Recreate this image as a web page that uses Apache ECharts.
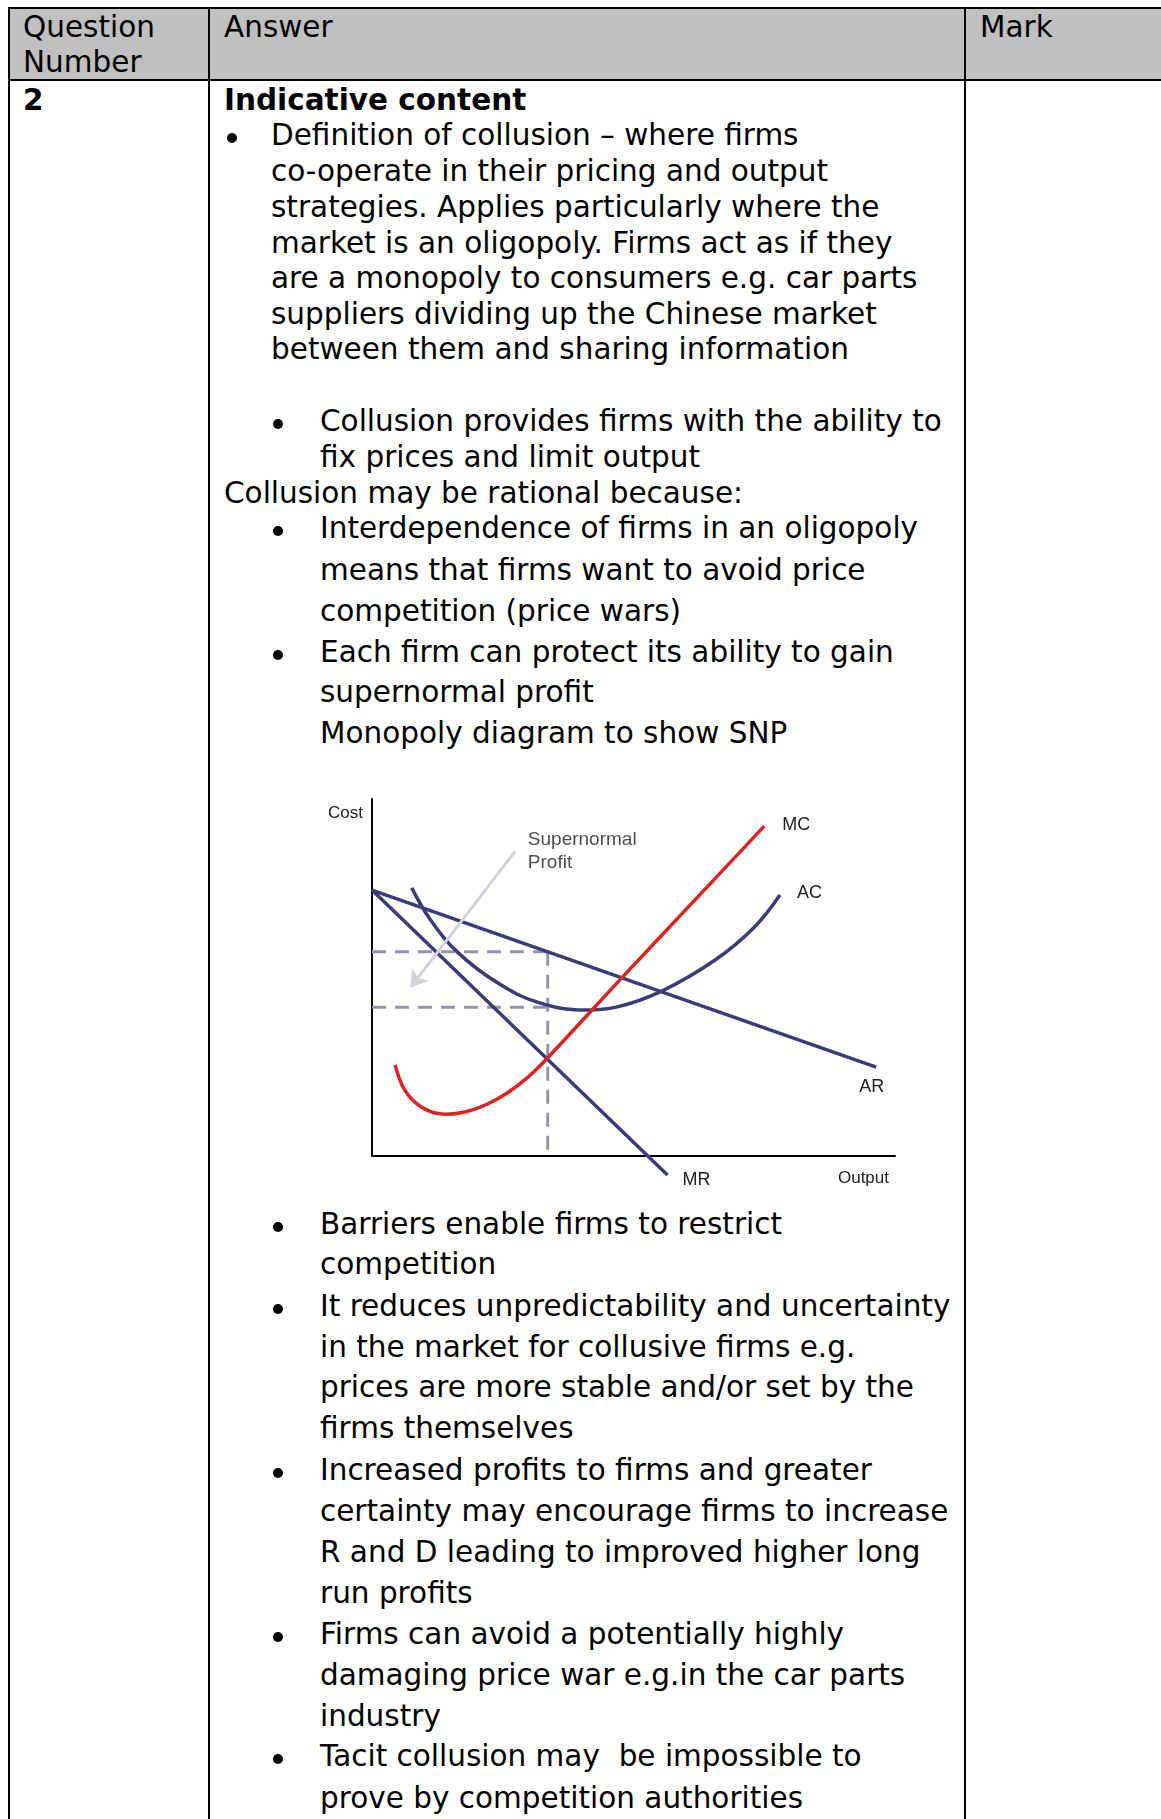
<!DOCTYPE html>
<html>
<head>
<meta charset="utf-8">
<script src="https://cdn.jsdelivr.net/npm/echarts@6/dist/echarts.min.js"></script>
<style>
  body { margin: 0; background: #fff; }
  #page { position: relative; width: 1161px; height: 1819px; overflow: hidden;
          font-family: "DejaVu Sans", Verdana, sans-serif; font-size: 29.5px; color: #000; }
  .ln { position: absolute; white-space: pre; line-height: 36px; }
  .b { font-weight: bold; }
  .dot { position: absolute; width: 10px; height: 10px; border-radius: 50%; background: #000; }
  .rule { position: absolute; background: #000; }
  #head { position: absolute; left: 10px; top: 9px; width: 1151px; height: 70px; background: #c0c0c0; }
  #chart { position: absolute; left: 300px; top: 770px; width: 620px; height: 430px; }
</style>
</head>
<body>
<div id="page">
  <div id="head"></div>
  <div class="rule" style="left:8px;top:7px;width:1153px;height:2px"></div>
  <div class="rule" style="left:8px;top:79px;width:1153px;height:2px"></div>
  <div class="rule" style="left:8px;top:7px;width:2px;height:1812px"></div>
  <div class="rule" style="left:208px;top:7px;width:2px;height:1812px"></div>
  <div class="rule" style="left:964px;top:7px;width:2px;height:1812px"></div>
  <div id="text"></div>
  <div id="chart"></div>
</div>
<script>
// text lines of the mark scheme: [text, left, centre y, bold?]
// a text of '*' is a bullet dot centred on (left, y)
var lines = [
  ['Question', 23, 28], ['Number', 23, 63], ['Answer', 224, 28], ['Mark', 980, 28],
  ['2', 23, 101, 1], ['Indicative content', 224, 101, 1],
  ['*', 232, 136], ['Definition of collusion \u2013 where firms', 271, 136],
  ['co-operate in their pricing and output', 271, 172],
  ['strategies. Applies particularly where the', 271, 208],
  ['market is an oligopoly. Firms act as if they', 271, 244],
  ['are a monopoly to consumers e.g. car parts', 271, 279],
  ['suppliers dividing up the Chinese market', 271, 315],
  ['between them and sharing information', 271, 350],
  ['*', 278, 422], ['Collusion provides firms with the ability to', 320, 422],
  ['fix prices and limit output', 320, 458],
  ['Collusion may be rational because:', 224, 494],
  ['*', 278, 529], ['Interdependence of firms in an oligopoly', 320, 529],
  ['means that firms want to avoid price', 320, 571],
  ['competition (price wars)', 320, 612],
  ['*', 278, 653], ['Each firm can protect its ability to gain', 320, 653],
  ['supernormal profit', 320, 693],
  ['Monopoly diagram to show SNP', 320, 734],
  ['*', 278, 1225], ['Barriers enable firms to restrict', 320, 1225],
  ['competition', 320, 1265],
  ['*', 278, 1307], ['It reduces unpredictability and uncertainty', 320, 1307],
  ['in the market for collusive firms e.g.', 320, 1348],
  ['prices are more stable and/or set by the', 320, 1388],
  ['firms themselves', 320, 1429],
  ['*', 278, 1471], ['Increased profits to firms and greater', 320, 1471],
  ['certainty may encourage firms to increase', 320, 1512],
  ['R and D leading to improved higher long', 320, 1553],
  ['run profits', 320, 1594],
  ['*', 278, 1635], ['Firms can avoid a potentially highly', 320, 1635],
  ['damaging price war e.g.in the car parts', 320, 1676],
  ['industry', 320, 1717],
  ['*', 278, 1757], ['Tacit collusion may  be impossible to', 320, 1757],
  ['prove by competition authorities', 320, 1799]
];
var html = '';
lines.forEach(function (l) {
  if (l[0] === '*') {
    html += '<div class="dot" style="left:' + (l[1] - 5) + 'px;top:' + (l[2] - 3) + 'px"></div>';
  } else {
    html += '<div class="ln' + (l[3] ? ' b' : '') + '" style="left:' + l[1] + 'px;top:' + (l[2] - 19) + 'px">' + l[0] + '</div>';
  }
});
document.getElementById('text').innerHTML = html;

// diagram values (output on x, cost on y, both 0-100)
var arCurve = [[0, 74.5], [96.4, 24.9]];
var mrCurve = [[0, 74.5], [56.5, -5.3]];
var acCurve = [[7.6, 75.1], [11.2, 66.1], [16.5, 56.9], [24.0, 48.5], [31.6, 43.1], [40.7, 40.9],
               [46.7, 41.7], [55.4, 46.2], [65.6, 54.9], [73.1, 64.1], [78.0, 73.1]];
var mcCurve = [[4.4, 25.5], [5.9, 19.4], [8.1, 15.2], [11.2, 12.4], [14.2, 11.7], [18.0, 12.4],
               [22.0, 14.5], [26.0, 17.8], [30.0, 22.3], [33.6, 27.5], [48.2, 50.6],
               [61.8, 71.8], [75.0, 92.4]];
var profitQ = 33.6;
var priceP = 57.2;
var costAtQ = 41.7;
var arrowFrom = [27.4, 85.4];
var arrowTo = [7.4, 47.3];
var noteAt = [29.8, 85.3];

var navy = '#3b3b7b';
var dash = '#9492ae';
var labelFont = '"Liberation Sans", Arial, sans-serif';

function dashed(data) {
  return { type: 'line', data: data, symbol: 'none', silent: true, z: 1,
           lineStyle: { color: dash, width: 3, type: [14, 9] } };
}
function curve(data, color, name, offset, smooth) {
  return { type: 'line', data: data, symbol: 'none', smooth: smooth || false, clip: false, z: 3,
           lineStyle: { color: color, width: 3.5 },
           endLabel: { show: true, formatter: name, distance: 0, offset: offset,
                       color: '#222', fontSize: 18, fontFamily: labelFont } };
}

var chart = echarts.init(document.getElementById('chart'));
chart.setOption({
  animation: false,
  grid: { left: 72, top: 29, width: 523, height: 357 },
  xAxis: {
    type: 'value', min: 0, max: 100, name: 'Output', nameLocation: 'end', nameGap: -6,
    nameTextStyle: { align: 'right', verticalAlign: 'top', padding: [14, 0, 0, 0],
                     color: '#222', fontSize: 17, fontFamily: labelFont },
    axisLine: { lineStyle: { color: '#000', width: 2 } },
    axisTick: { show: false }, axisLabel: { show: false }, splitLine: { show: false }
  },
  yAxis: {
    type: 'value', min: 0, max: 100, name: 'Cost', nameLocation: 'end', nameGap: -14,
    nameTextStyle: { align: 'right', verticalAlign: 'middle', padding: [0, 9, 0, 0],
                     color: '#222', fontSize: 17, fontFamily: labelFont },
    axisLine: { show: true, lineStyle: { color: '#000', width: 2 } },
    axisTick: { show: false }, axisLabel: { show: false }, splitLine: { show: false }
  },
  series: [
    dashed([[0, priceP], [profitQ, priceP]]),
    dashed([[0, costAtQ], [profitQ, costAtQ]]),
    dashed([[profitQ, priceP], [profitQ, 0]]),
    curve(arCurve, navy, 'AR', [-17, 20]),
    curve(mrCurve, navy, 'MR', [15, 5]),
    curve(acCurve, navy, 'AC', [17, -2], 0.4),
    curve(mcCurve, '#e02222', 'MC', [18, -1], 0.3),
    {
      type: 'lines', coordinateSystem: 'cartesian2d', z: 4, silent: true,
      symbol: ['none', 'arrow'], symbolSize: [11, 16],
      lineStyle: { color: '#d2d2da', width: 3, opacity: 1 },
      data: [{ coords: [arrowFrom, arrowTo] }]
    },
    {
      type: 'scatter', data: [noteAt], symbolSize: 0, z: 5, silent: true,
      label: { show: true, position: 'right', distance: 0, formatter: 'Supernormal\nProfit',
               align: 'left', lineHeight: 23, color: '#222', fontSize: 19, fontFamily: labelFont }
    }
  ]
});
</script>
</body>
</html>
